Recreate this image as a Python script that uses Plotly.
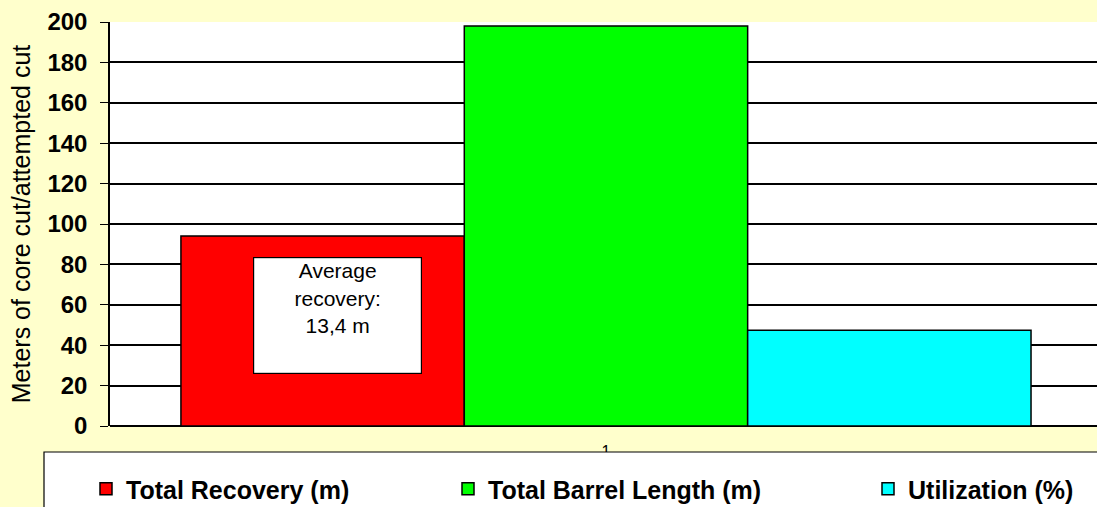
import plotly.graph_objects as go

# Core cutting summary
categories = ["1"]
series_names = ["Total Recovery (m)", "Total Barrel Length (m)", "Utilization (%)"]
series_values = [[94.0], [198.0], [47.4]]
series_colors = ["#FF0000", "#00FF00", "#00FFFF"]
y_ticks = [0, 20, 40, 60, 80, 100, 120, 140, 160, 180, 200]
note_text = "Average<br>recovery:<br>13,4 m"

W, H = 1097, 507
L, R, T, B = 110, 0, 22, 81

# one legend per series so each entry sits at its own spot on the bottom panel
legend_ids = ["legend", "legend2", "legend3"]
legend_x_px = [86, 448, 868]
legend_y_px = 489

fig = go.Figure()
for name, vals, col, lg in zip(series_names, series_values, series_colors, legend_ids):
    fig.add_trace(go.Bar(
        x=categories, y=vals, name=name, legend=lg,
        marker=dict(color=col, line=dict(color="black", width=1.5)),
    ))

plot_w = W - L - R
plot_h = H - T - B

def px_to_paper_x(px):
    return (px - L) / plot_w

def px_to_paper_y(py):
    return (H - B - py) / plot_h

# white legend panel along the bottom
fig.add_shape(type="rect", xref="paper", yref="paper",
              x0=px_to_paper_x(44), x1=px_to_paper_x(1110),
              y0=px_to_paper_y(452), y1=px_to_paper_y(520),
              fillcolor="white", line=dict(color="black", width=1.2),
              layer="above")

fig.add_annotation(
    x=-0.271, y=83.9, xref="x", yref="y",
    xanchor="center", yanchor="top",
    text=note_text, showarrow=False,
    width=165, height=113, valign="top", align="center",
    bgcolor="white", bordercolor="black", borderwidth=1.2, borderpad=1,
    font=dict(family="Liberation Sans, Arial", size=21, color="black"),
)

legend_common = dict(
    orientation="h",
    xref="container", yref="container",
    xanchor="left", yanchor="middle",
    font=dict(size=25, weight="bold", color="black"),
    bgcolor="rgba(0,0,0,0)",
    borderwidth=0,
    itemclick=False, itemdoubleclick=False,
)
legend_layouts = {}
for lg, xpx in zip(legend_ids, legend_x_px):
    legend_layouts[lg] = dict(legend_common, x=xpx / W, y=1 - legend_y_px / H)

fig.update_layout(
    width=W, height=H,
    margin=dict(l=L, r=R, t=T, b=B, autoexpand=False),
    paper_bgcolor="#FFFFCC",
    plot_bgcolor="white",
    barmode="group",
    bargap=0.143,
    bargroupgap=0,
    font=dict(family="Liberation Sans, Arial", color="black"),
    showlegend=True,
    xaxis=dict(
        range=[-0.5, 0.495],
        tickvals=categories, ticktext=categories,
        showgrid=False, ticks="", showline=False,
        tickfont=dict(size=16),
        ticklabelstandoff=14,
        zeroline=False,
        automargin=False,
    ),
    yaxis=dict(
        range=[0, 200],
        tickvals=y_ticks,
        showgrid=True, gridcolor="black", gridwidth=1.5,
        showline=True, linecolor="black", linewidth=1.5,
        ticks="outside", ticklen=8, tickcolor="black", tickwidth=1.2,
        tickfont=dict(size=24, weight="bold"),
        ticklabelstandoff=8,
        title=dict(text="Meters of core cut/attempted cut",
                   font=dict(size=25), standoff=10),
        zeroline=True, zerolinecolor="black", zerolinewidth=2,
        automargin=False,
    ),
    **legend_layouts,
)

fig.write_html("out.html")
